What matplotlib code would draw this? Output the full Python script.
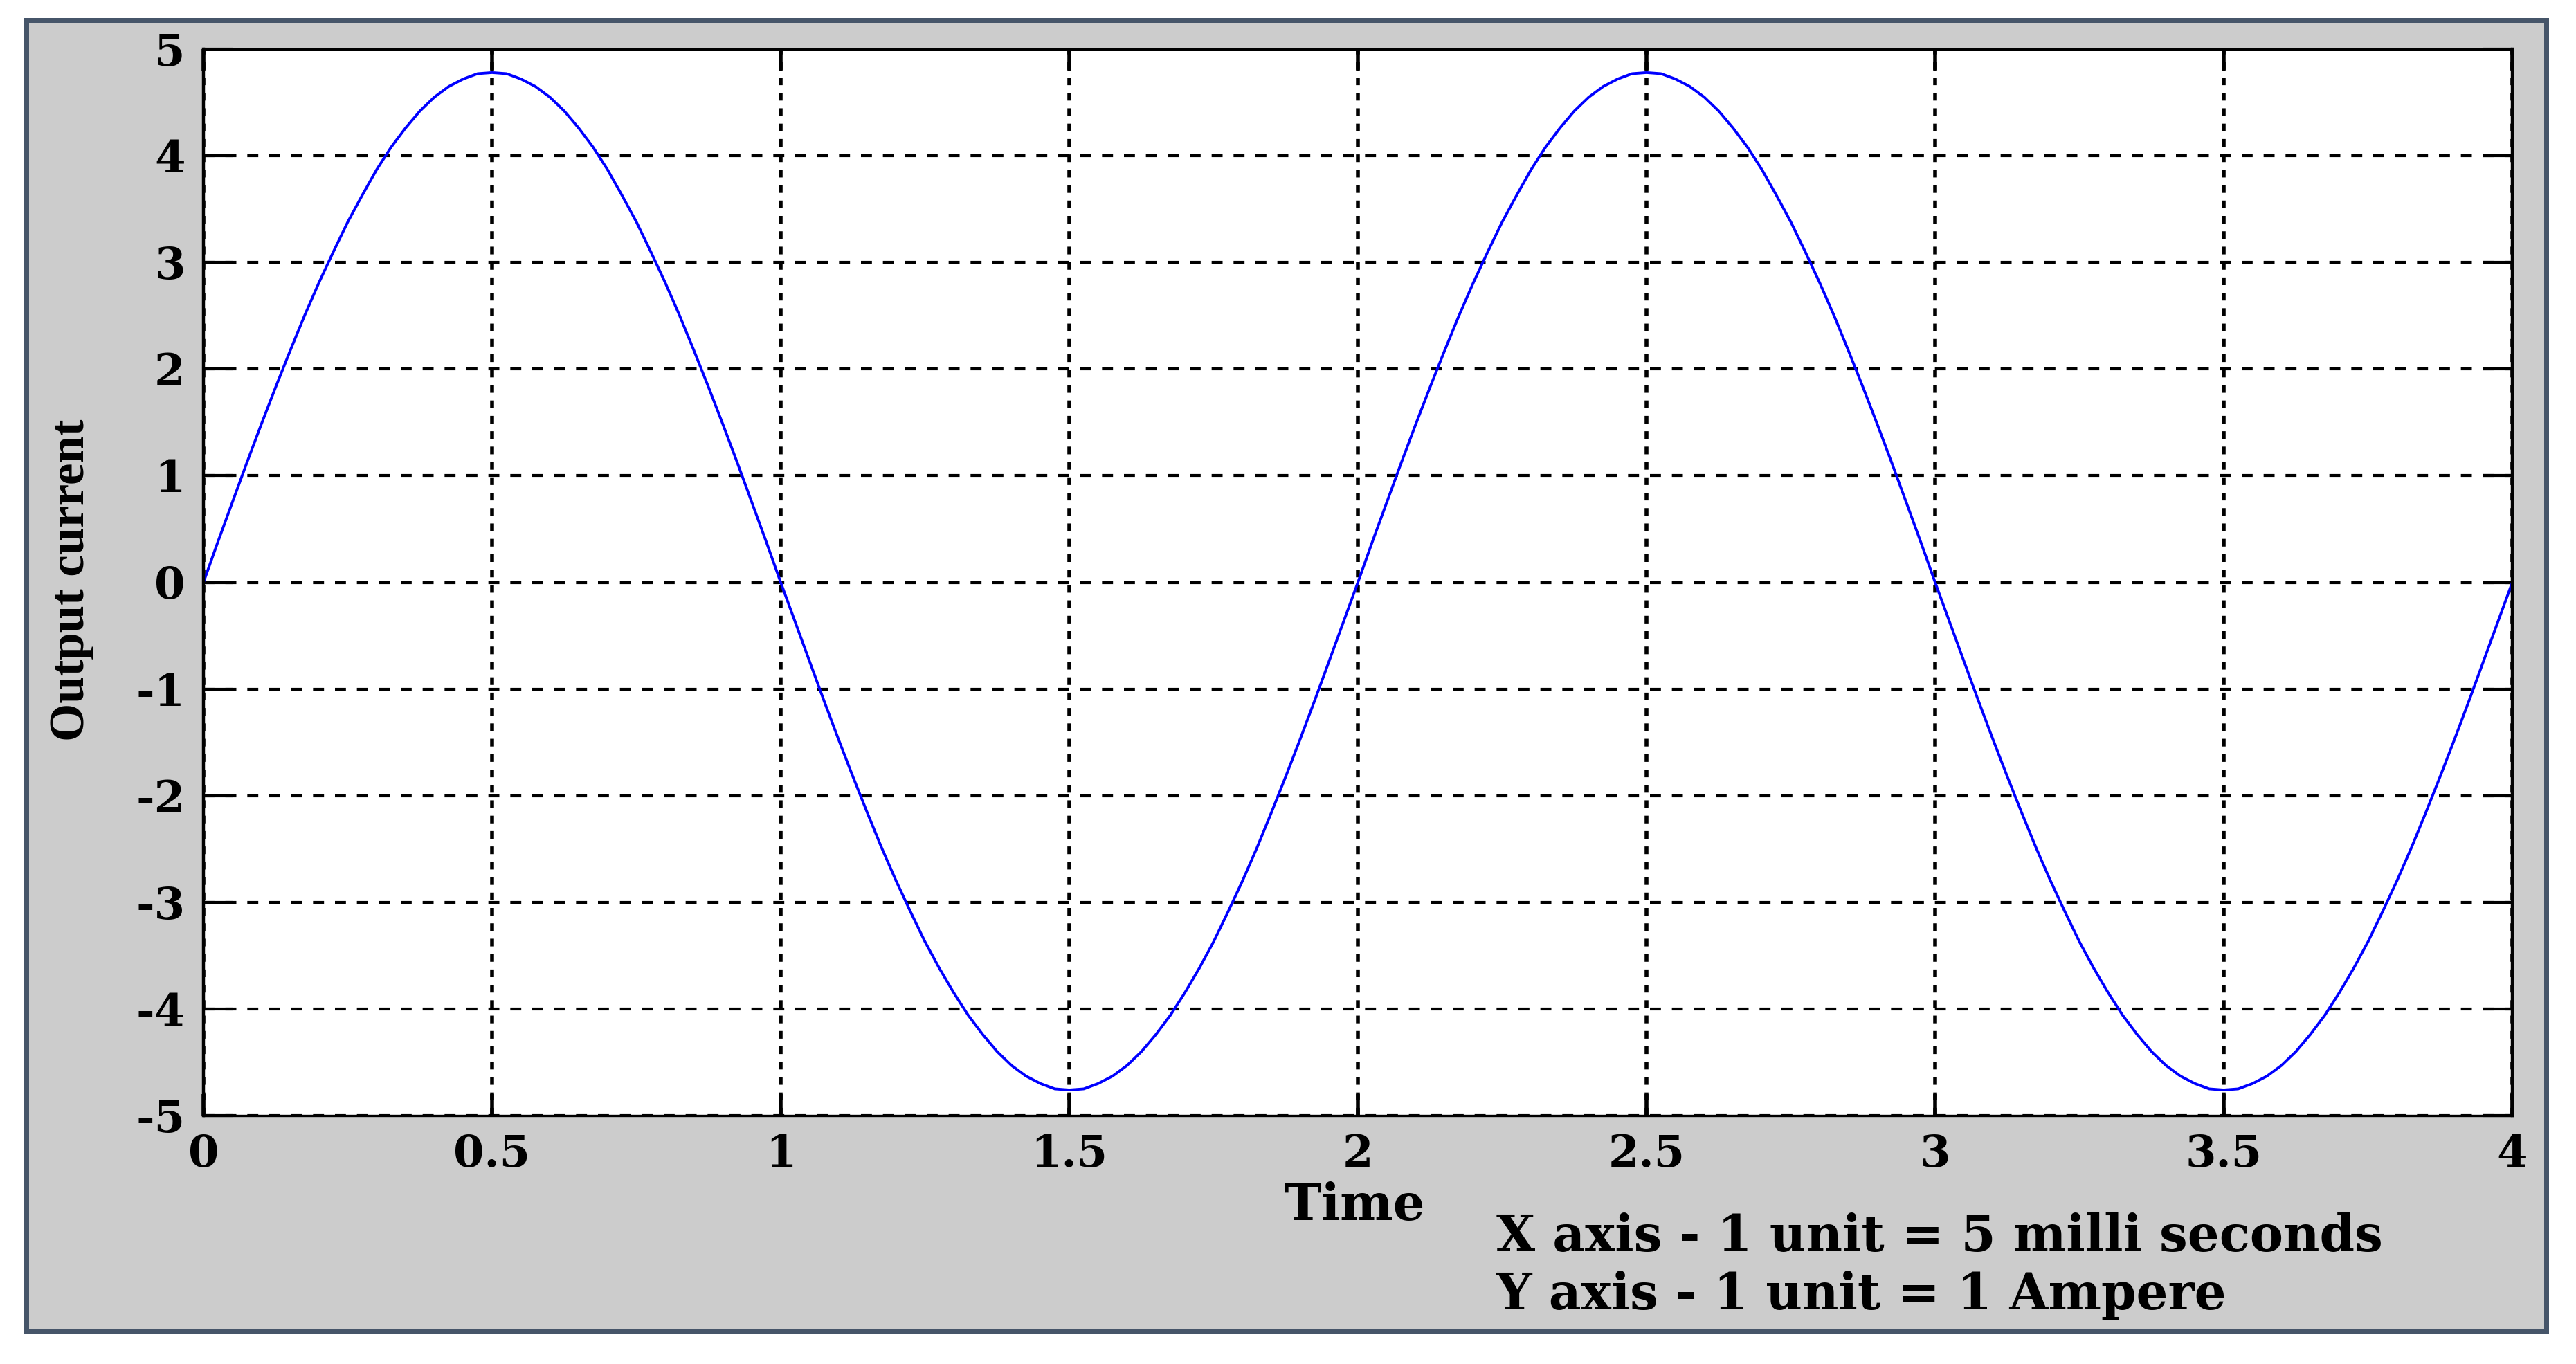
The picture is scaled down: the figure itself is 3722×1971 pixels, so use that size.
import matplotlib
matplotlib.use("Agg")
import matplotlib.pyplot as plt
from matplotlib.patches import Rectangle

# ---------------- data ----------------
time = [0.000, 0.025, 0.050, 0.075, 0.100, 0.125, 0.150, 0.175, 0.200, 0.225,
        0.250, 0.275, 0.300, 0.325, 0.350, 0.375, 0.400, 0.425, 0.450, 0.475,
        0.500, 0.525, 0.550, 0.575, 0.600, 0.625, 0.650, 0.675, 0.700, 0.725,
        0.750, 0.775, 0.800, 0.825, 0.850, 0.875, 0.900, 0.925, 0.950, 0.975,
        1.000, 1.025, 1.050, 1.075, 1.100, 1.125, 1.150, 1.175, 1.200, 1.225,
        1.250, 1.275, 1.300, 1.325, 1.350, 1.375, 1.400, 1.425, 1.450, 1.475,
        1.500, 1.525, 1.550, 1.575, 1.600, 1.625, 1.650, 1.675, 1.700, 1.725,
        1.750, 1.775, 1.800, 1.825, 1.850, 1.875, 1.900, 1.925, 1.950, 1.975,
        2.000, 2.025, 2.050, 2.075, 2.100, 2.125, 2.150, 2.175, 2.200, 2.225,
        2.250, 2.275, 2.300, 2.325, 2.350, 2.375, 2.400, 2.425, 2.450, 2.475,
        2.500, 2.525, 2.550, 2.575, 2.600, 2.625, 2.650, 2.675, 2.700, 2.725,
        2.750, 2.775, 2.800, 2.825, 2.850, 2.875, 2.900, 2.925, 2.950, 2.975,
        3.000, 3.025, 3.050, 3.075, 3.100, 3.125, 3.150, 3.175, 3.200, 3.225,
        3.250, 3.275, 3.300, 3.325, 3.350, 3.375, 3.400, 3.425, 3.450, 3.475,
        3.500, 3.525, 3.550, 3.575, 3.600, 3.625, 3.650, 3.675, 3.700, 3.725,
        3.750, 3.775, 3.800, 3.825, 3.850, 3.875, 3.900, 3.925, 3.950, 3.975,
        4.000]
current = [
    # 0 .. 1
    0.00, 0.38, 0.75, 1.12, 1.48, 1.83, 2.17, 2.50, 2.81, 3.10,
    3.38, 3.63, 3.87, 4.08, 4.26, 4.42, 4.55, 4.65, 4.72, 4.77,
    4.78, 4.77, 4.72, 4.65, 4.55, 4.42, 4.26, 4.08, 3.87, 3.63,
    3.38, 3.10, 2.81, 2.50, 2.17, 1.83, 1.48, 1.12, 0.75, 0.38,
    # 1 .. 2
    0.00, -0.37, -0.74, -1.11, -1.47, -1.82, -2.16, -2.49, -2.80, -3.09,
    -3.37, -3.62, -3.85, -4.06, -4.24, -4.40, -4.53, -4.63, -4.70, -4.75,
    -4.76, -4.75, -4.70, -4.63, -4.53, -4.40, -4.24, -4.06, -3.85, -3.62,
    -3.37, -3.09, -2.80, -2.49, -2.16, -1.82, -1.47, -1.11, -0.74, -0.37,
    # 2 .. 3
    0.00, 0.38, 0.75, 1.12, 1.48, 1.83, 2.17, 2.50, 2.81, 3.10,
    3.38, 3.63, 3.87, 4.08, 4.26, 4.42, 4.55, 4.65, 4.72, 4.77,
    4.78, 4.77, 4.72, 4.65, 4.55, 4.42, 4.26, 4.08, 3.87, 3.63,
    3.38, 3.10, 2.81, 2.50, 2.17, 1.83, 1.48, 1.12, 0.75, 0.38,
    # 3 .. 4
    0.00, -0.37, -0.74, -1.11, -1.47, -1.82, -2.16, -2.49, -2.80, -3.09,
    -3.37, -3.62, -3.85, -4.06, -4.24, -4.40, -4.53, -4.63, -4.70, -4.75,
    -4.76, -4.75, -4.70, -4.63, -4.53, -4.40, -4.24, -4.06, -3.85, -3.62,
    -3.37, -3.09, -2.80, -2.49, -2.16, -1.82, -1.47, -1.11, -0.74, -0.37,
    0.00]
x_ticks = [0, 0.5, 1, 1.5, 2, 2.5, 3, 3.5, 4]
x_tick_labels = ["0", "0.5", "1", "1.5", "2", "2.5", "3", "3.5", "4"]
y_ticks = [-5, -4, -3, -2, -1, 0, 1, 2, 3, 4, 5]
y_tick_labels = ["-5", "-4", "-3", "-2", "-1", "0", "1", "2", "3", "4", "5"]
x_label = "Time"
y_label = "Output current"
note_lines = ["X axis - 1 unit = 5 milli seconds", "Y axis - 1 unit = 1 Ampere"]

# ---------------- figure ----------------
W, H = 3723, 1971
DPI = 100
fig = plt.figure(figsize=(W / DPI, H / DPI), dpi=DPI, facecolor="white")

def fx(px):
    return px / W

def fy(py):
    return 1 - py / H

# gray panel with slate frame
frame = Rectangle((fx(37.5), fy(1923.5)), fx(3679.5) - fx(37.5), fy(28.5) - fy(1923.5),
                  transform=fig.transFigure, facecolor="#CCCCCC", edgecolor="#465569",
                  linewidth=7 * 72 / DPI, zorder=-10)
fig.patches.append(frame)

ax_l, ax_r, ax_t, ax_b = 294, 3630, 71, 1612
ax = fig.add_axes([fx(ax_l), fy(ax_b), fx(ax_r) - fx(ax_l), fy(ax_t) - fy(ax_b)])
ax.set_zorder(1)
ax.set_facecolor("white")

ax.plot(time, current, color="#0000FF", linewidth=2.8, zorder=3)

ax.set_xlim(0, 4)
ax.set_ylim(-5, 5)
ax.set_xticks(x_ticks)
ax.set_xticklabels(x_tick_labels)
ax.set_yticks(y_ticks)
ax.set_yticklabels(y_tick_labels)

for lab in ax.get_xticklabels() + ax.get_yticklabels():
    lab.set_fontfamily("DejaVu Serif")
    lab.set_fontweight("bold")
    lab.set_fontsize(46)

ax.tick_params(axis="x", direction="in", top=True, bottom=True, length=22, width=4.0,
               pad=19, colors="black")
ax.tick_params(axis="y", direction="in", left=True, right=True, length=30, width=3.0,
               pad=19, colors="black")

# dashed grid (vertical lines are drawn heavier, as in the picture)
ax.xaxis.grid(True, color="black", linewidth=4.0, linestyle=(0, (2.0, 2.0)))
ax.yaxis.grid(True, color="black", linewidth=3.0, linestyle=(0, (3.8, 3.8)))
ax.set_axisbelow(True)

for side in ("left", "right"):
    ax.spines[side].set_linewidth(3.2)
for side in ("top", "bottom"):
    ax.spines[side].set_linewidth(2.4)
for sp in ax.spines.values():
    sp.set_color("black")
    sp.set_zorder(4)

# axis labels and notes
fig.text(fx(1957), fy(1763), x_label, ha="center", va="baseline",
         family="DejaVu Serif", weight="bold", size=52)
fig.text(fx(104), fy(838), y_label, ha="center", va="center", rotation=90,
         family="Liberation Serif", weight="bold", size=51)
fig.text(fx(2162), fy(1808), note_lines[0], ha="left", va="baseline",
         family="DejaVu Serif", weight="bold", size=52)
fig.text(fx(2162), fy(1892), note_lines[1], ha="left", va="baseline",
         family="DejaVu Serif", weight="bold", size=52)

fig.savefig("out.png", dpi=DPI, facecolor="white")
